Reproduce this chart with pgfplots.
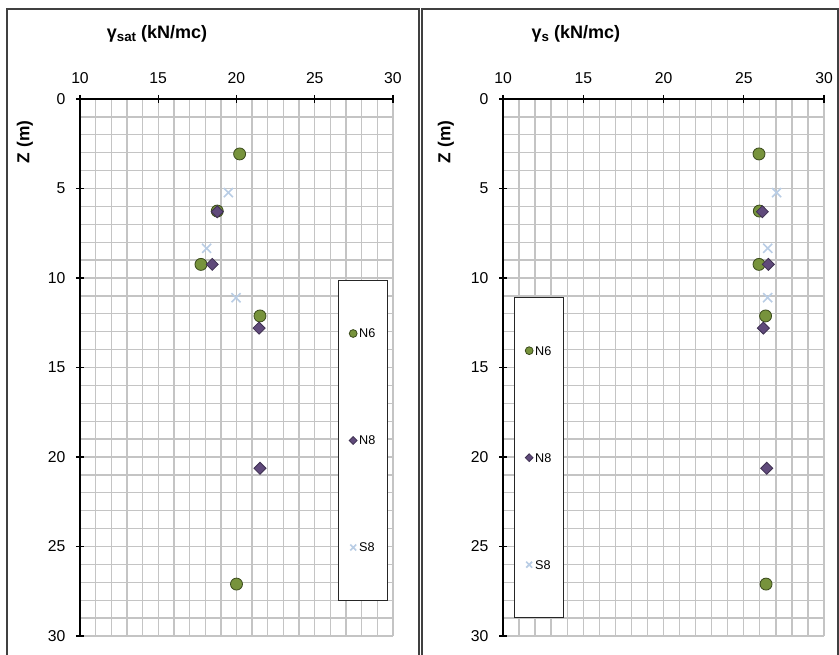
\documentclass[border=0pt]{standalone}
\usepackage{fontspec}
\setmainfont{Liberation Sans}
\usepackage{pgfplots}
\pgfplotsset{compat=1.18}
\definecolor{grn}{HTML}{77933C}
\definecolor{grnE}{HTML}{3A4A1C}
\definecolor{prp}{HTML}{604A7B}
\definecolor{prpE}{HTML}{3F3151}
\definecolor{lblue}{HTML}{B9CDE5}
\definecolor{gridc}{HTML}{C4C4C4}
\pgfplotsset{
 myax/.style={
  scale only axis, height=402.75pt,
  xmin=10, xmax=30, ymin=0, ymax=30, y dir=reverse,
  axis x line=top, axis y line=left,
  axis line style={-, black, line width=0.8pt},
  xtick={10,15,...,30}, ytick={0,5,...,30},
  minor x tick num=4, minor y tick num=4,
  grid=both,
  major grid style={gridc, line width=1pt},
  minor grid style={gridc, line width=1pt},
  tick align=center, major tick length=6pt, minor tick length=0pt,
  tick style={black, line width=0.8pt},
  ticklabel style={font=\fontsize{11.8}{12}\selectfont},
  xticklabel style={yshift=5pt},
  yticklabel style={xshift=-4.5pt},
  /pgf/number format/assume math mode=true,
  title style={anchor=center, font=\bfseries\fontsize{13.5}{14}\selectfont},
  ylabel style={anchor=center, font=\bfseries\fontsize{13}{14}\selectfont},
  legend cell align=left,
  legend image code/.code={\draw[mark repeat=2,mark phase=2,##1] plot coordinates {(0pt,0pt)(3pt,0pt)(6pt,0pt)};},
  legend image post style={every mark/.append style={scale=0.65}},
  legend style={draw=black!85, line width=0.8pt, anchor=north west,
    minimum width=36.75pt, minimum height=240pt,
    row sep=71.75pt, column sep=0.5pt,
    font=\fontsize{9.5}{10}\selectfont,
    nodes={minimum width=0pt, minimum height=0pt, inner sep=1pt, text height=6.5pt, text depth=0pt}},
 },
 sN6/.style={only marks, mark=*, mark size=4.5pt, mark options={fill=grn, draw=grnE, line width=0.6pt}},
 sN8/.style={only marks, mark=square*, mark size=3.2pt, mark options={rotate=45, fill=prp, draw=prpE, line width=0.6pt}},
 sS8/.style={only marks, mark=x, mark size=4.8pt, mark options={draw=lblue, line width=1.2pt}},
}
\begin{document}
\begin{tikzpicture}
\useasboundingbox (0,0) rectangle (629.25pt,491.25pt);
% left panel
\begin{axis}[myax, width=234.75pt, at={(60pt,14.25pt)}, anchor=south west,
  title={γ\raisebox{-0.35ex}{\fontsize{10}{10}\selectfont sat} (kN/mc)},
  title style={at={(axis description cs:0.246,1.107)}},
  ylabel={Z (m)},
  ylabel style={at={(axis description cs:-0.176,0.92)}},
  legend style={at={(0.824,0.663)}}]
\addplot[sN6] coordinates {(20.2,3.07) (18.77,6.26) (17.73,9.24) (21.5,12.12) (20.0,27.1)};
\addlegendentry{N6}
\addplot[sN8] coordinates {(18.77,6.3) (18.45,9.24) (21.44,12.8) (21.5,20.63)};
\addlegendentry{N8}
\addplot[sS8] coordinates {(19.48,5.23) (18.09,8.34) (19.97,11.1)};
\addlegendentry{S8}
\end{axis}
% right panel
\begin{axis}[myax, width=240.75pt, at={(377.25pt,14.25pt)}, anchor=south west,
  title={γ\raisebox{-0.35ex}{\fontsize{10}{10}\selectfont s} (kN/mc)},
  title style={at={(axis description cs:0.227,1.107)}},
  ylabel={Z (m)},
  ylabel style={at={(axis description cs:-0.178,0.92)}},
  legend style={at={(0.034,0.631)}}]
\addplot[sN6] coordinates {(25.95,3.07) (25.97,6.26) (25.95,9.24) (26.36,12.12) (26.39,27.1)};
\addlegendentry{N6}
\addplot[sN8] coordinates {(26.16,6.3) (26.53,9.24) (26.22,12.8) (26.43,20.63)};
\addlegendentry{N8}
\addplot[sS8] coordinates {(27.05,5.23) (26.49,8.34) (26.49,11.1)};
\addlegendentry{S8}
\end{axis}
\draw[line width=1.2pt, black!75] (5.25pt,0pt) -- (5.25pt,484.5pt) -- (314.25pt,484.5pt) -- (314.25pt,0pt);
\draw[line width=1.2pt, black!75] (316.5pt,0pt) -- (316.5pt,484.5pt) -- (628.5pt,484.5pt) -- (628.5pt,0pt);
\end{tikzpicture}
\end{document}
